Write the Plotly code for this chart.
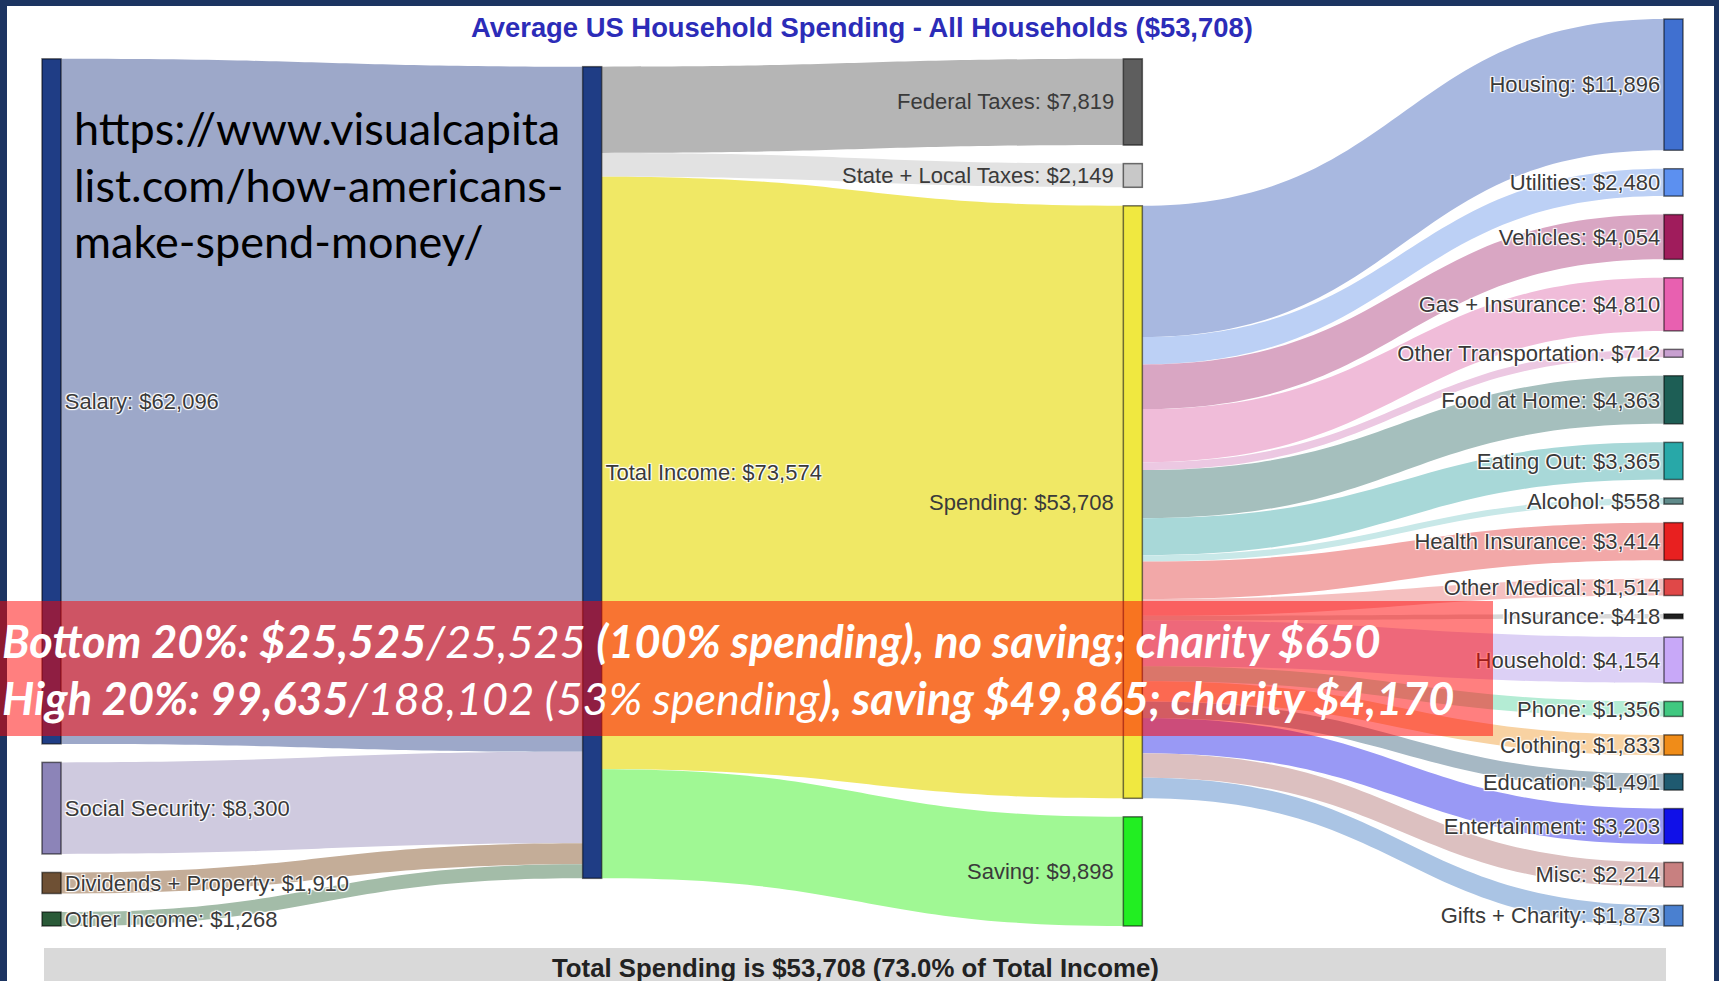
import plotly.graph_objects as go

# ---------------- data ----------------
income_labels = ["Salary", "Social Security", "Dividends + Property", "Other Income"]
income_values = [62096, 8300, 1910, 1268]

total_label = "Total Income"

outflow_labels = ["Federal Taxes", "State + Local Taxes", "Spending", "Saving"]
outflow_values = [7819, 2149, 53708, 9898]

spend_labels = ["Housing", "Utilities", "Vehicles", "Gas + Insurance", "Other Transportation",
                "Food at Home", "Eating Out", "Alcohol", "Health Insurance", "Other Medical",
                "Insurance", "Household", "Phone", "Clothing", "Education", "Entertainment",
                "Misc", "Gifts + Charity"]
spend_values = [11896, 2480, 4054, 4810, 712, 4363, 3365, 558, 3414, 1514,
                418, 4154, 1356, 1833, 1491, 3203, 2214, 1873]

title_text = "Average US Household Spending - All Households ($53,708)"
footer_text = "Total Spending is $53,708 (73.0% of Total Income)"
url_lines = ["https://www.visualcapita", "list.com/how-americans-", "make-spend-money/"]
banner_lines = [
    "<b>Bottom 20%: $25,525</b>/25,525 <b>(100% spending), no saving; charity $650</b>",
    "<b>High 20%: 99,635</b>/188,102 (53% spending<b>), saving $49,865; charity $4,170</b>",
]

# ---------------- colours ----------------
income_node_colors = ["#1f3d85", "#8c84b8", "#6e5034", "#2a5a38"]
income_link_colors = ["#9da8c9", "#cfcadf", "#c4ad98", "#a3bca8"]
total_node_color = "#1f3d85"
outflow_node_colors = ["#5e5e5e", "#c8c8c8", "#f0e840", "#22ee22"]
outflow_link_colors = ["#b5b5b5", "#e2e2e2", "#f0e865", "#a0f894"]
spend_node_colors = ["#4070d0", "#5c90f0", "#a01c5c", "#e860b0", "#c8a0d0",
                     "#1d5e55", "#28a8a8", "#5f8a8a", "#e82020", "#e04848",
                     "#202020", "#c8a8f8", "#40c880", "#f08c18", "#1f5a70",
                     "#1010e8", "#c88080", "#4a80d0"]
spend_link_colors = ["#a8b8e0", "#bcd0f5", "#d9a6c3", "#f0bcd9", "#ecc8e2",
                     "#a5bfbd", "#a8d8d8", "#c8e8e8", "#f2a8a8", "#f5c0c0",
                     "#d8d8d8", "#dcd0f5", "#b4ecd4", "#f8d2a2", "#a6b8c4",
                     "#9999f5", "#dcc0c0", "#aac4e4"]

# ---------------- geometry ----------------
W_FIG, H_FIG = 1719, 981
ML, MR, MT, MB = 42, 36, 19, 55
PW = W_FIG - ML - MR
PH = H_FIG - MT - MB
THICK = 19
PAD = 18.5
LABEL_FONT = dict(family="Liberation Sans, Arial, sans-serif", size=22, color="#3a3a3a")


def px2x(px):
    return (px - ML) / PW


def py2y(py):
    return (H_FIG - MB - py) / PH


ky = (PH - (len(spend_values) - 1) * PAD) / sum(spend_values)


def stack_centers(values, top):
    out = []
    y = top
    for v in values:
        h = v * ky
        out.append((y + h / 2) / PH)
        y += h + PAD
    return out


def col_extent(values):
    return sum(values) * ky + (len(values) - 1) * PAD


total_value = sum(income_values)
col_x = [(k * (PW - THICK) / 3 + THICK / 2) / PW for k in range(4)]

y0 = stack_centers(income_values, PH - col_extent(income_values))
y1 = stack_centers([total_value], (PH - col_extent([total_value])) / 2)
y2 = stack_centers(outflow_values, PH - col_extent(outflow_values))
y3 = stack_centers(spend_values, 0.0)

outflow_texts = [f"{n}: ${v:,}" for n, v in zip(outflow_labels, outflow_values)]
labels = ([f"{n}: ${v:,}" for n, v in zip(income_labels, income_values)]
          + [f"{total_label}: ${total_value:,}"]
          + ["" for _ in outflow_labels]          # drawn as left-side annotations below
          + [f"{n}: ${v:,}" for n, v in zip(spend_labels, spend_values)])
node_colors = income_node_colors + [total_node_color] + outflow_node_colors + spend_node_colors
node_x = ([col_x[0]] * 4 + [col_x[1]] + [col_x[2]] * 4 + [col_x[3]] * len(spend_values))
node_y = y0 + y1 + y2 + y3

i_total = len(income_labels)
i_out0 = i_total + 1
i_spending = i_out0 + outflow_labels.index("Spending")
i_spend0 = i_out0 + len(outflow_labels)

src, tgt, val, lcol = [], [], [], []
for k, v in enumerate(income_values):
    src.append(k); tgt.append(i_total); val.append(v); lcol.append(income_link_colors[k])
for k, v in enumerate(outflow_values):
    src.append(i_total); tgt.append(i_out0 + k); val.append(v); lcol.append(outflow_link_colors[k])
for k, v in enumerate(spend_values):
    src.append(i_spending); tgt.append(i_spend0 + k); val.append(v); lcol.append(spend_link_colors[k])

fig = go.Figure(go.Sankey(
    arrangement="fixed",
    domain=dict(x=[0, 1], y=[0, 1]),
    node=dict(label=labels, color=node_colors, x=node_x, y=node_y,
              pad=PAD, thickness=THICK, align="left",
              line=dict(color="rgba(0,0,0,0.55)", width=1.5)),
    link=dict(source=src, target=tgt, value=val, color=lcol),
    textfont=LABEL_FONT,
))

shapes = []
navy = "#1c3461"
for x0, x1, yy0, yy1 in [(0, 7, 0, 981), (0, 1719, 0, 6), (1714, 1719, 0, 981)]:
    shapes.append(dict(type="rect", xref="paper", yref="paper",
                       x0=px2x(x0), x1=px2x(x1), y0=py2y(yy1), y1=py2y(yy0),
                       fillcolor=navy, line=dict(width=0), layer="above"))
shapes.append(dict(type="rect", xref="paper", yref="paper",
                   x0=px2x(44), x1=px2x(1666), y0=py2y(995), y1=py2y(948),
                   fillcolor="#d9d9d9", line=dict(width=0), layer="below"))

ann = []
# left-side labels for the third column
for txt, yc in zip(outflow_texts, y2):
    ann.append(dict(x=col_x[2] - (THICK / 2 + 7) / PW, y=1 - yc, xref="paper", yref="paper",
                    showarrow=False, xanchor="right", yanchor="middle", text=txt,
                    font=LABEL_FONT))
ann.append(dict(x=px2x(862), y=py2y(28), xref="paper", yref="paper", showarrow=False,
                xanchor="center", yanchor="middle", text=f"<b>{title_text}</b>",
                font=dict(family="Liberation Sans, Arial", size=27.4, color="#2c2cb8")))
ann.append(dict(x=px2x(855), y=py2y(968), xref="paper", yref="paper", showarrow=False,
                xanchor="center", yanchor="middle", text=f"<b>{footer_text}</b>",
                font=dict(family="Liberation Sans, Arial", size=25.8, color="#222222")))
for k, line in enumerate(url_lines):
    ann.append(dict(x=px2x(72), y=py2y(128 + k * 56.5), xref="paper", yref="paper", showarrow=False,
                    xanchor="left", yanchor="middle", text=line,
                    font=dict(family="Lato, Carlito, sans-serif", size=45, color="#000000")))
# banner background
ann.append(dict(x=px2x(0), y=py2y(601), xref="paper", yref="paper", showarrow=False,
                xanchor="left", yanchor="top", text=" ", width=1493, height=135,
                bgcolor="rgba(255,0,0,0.5)", borderpad=0, borderwidth=0))
for k, line in enumerate(banner_lines):
    ann.append(dict(x=px2x(0), y=py2y(641 + k * 57), xref="paper", yref="paper", showarrow=False,
                    xanchor="left", yanchor="middle", text=f"<i>{line}</i>",
                    font=dict(family="Lato, Carlito, sans-serif", size=45, color="#ffffff")))

fig.update_layout(width=W_FIG, height=H_FIG, margin=dict(l=ML, r=MR, t=MT, b=MB),
                  paper_bgcolor="white", plot_bgcolor="white",
                  shapes=shapes, annotations=ann, showlegend=False)

fig.write_html("out.html", config={"displayModeBar": False},
               post_script="document.body.style.margin='0px';document.body.style.overflow='hidden';")
